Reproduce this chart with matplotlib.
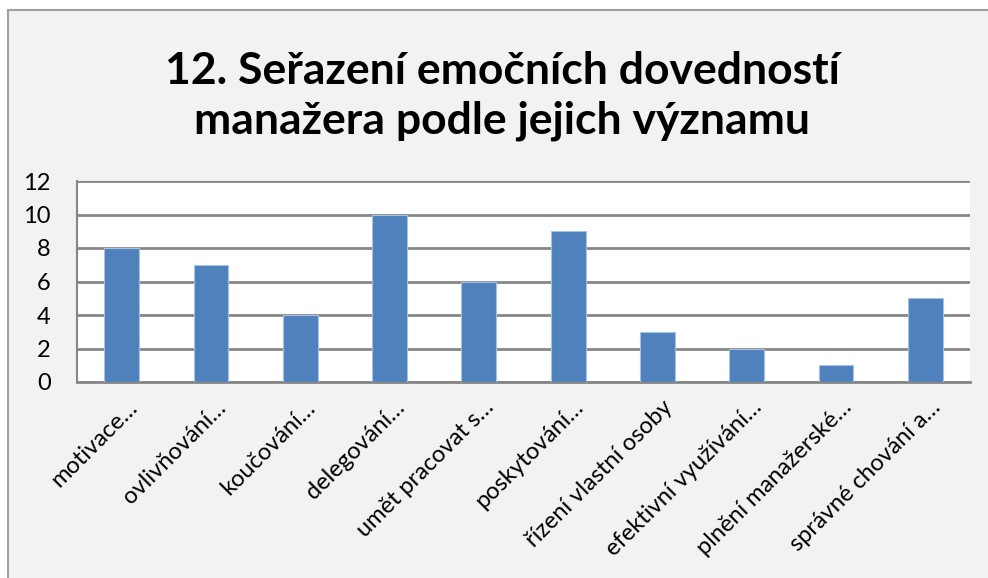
import matplotlib.pyplot as plt
import matplotlib.transforms as mtransforms
from matplotlib.patches import Rectangle
import numpy as np

#data
categories = ["motivace…", "ovlivňování…", "koučování…", "delegování…",
              "umět pracovat s…", "poskytování…", "řízení vlastní osoby",
              "efektivní využívání…", "plnění manažerské…", "správné chování a…"]
values = [8, 7, 4, 10, 6, 9, 3, 2, 1, 5]
yticks = [0, 2, 4, 6, 8, 10, 12]
title = "12. Seřazení emočních dovedností\nmanažera podle jejich významu"

plt.rcParams['font.family'] = ['Lato', 'DejaVu Sans']

fig = plt.figure(figsize=(9.88, 5.78), dpi=100)
fig.patch.set_facecolor("white")
# chart area box (cut off at right/bottom like the screenshot)
fig.patches.append(Rectangle((8/988, -0.1), 1.2, 1 - 10/578 + 0.1,
                             transform=fig.transFigure, facecolor="#f2f2f2",
                             edgecolor="#a0a0a0", linewidth=1.5, zorder=-5))

ax = fig.add_axes([77/988, 1 - 382/578, (970 - 77)/988, (382 - 181)/578])
ax.set_facecolor("white")

x = np.arange(len(categories))
ax.bar(x, values, width=0.39, color="#4f81bd", edgecolor="#a9c1e0",
       linewidth=0.8, zorder=3)

ax.set_xlim(-0.5, len(categories) - 0.5)
ax.set_ylim(0, 12)
ax.set_yticks(yticks)
ax.yaxis.grid(True, color="#868686", linewidth=2, zorder=1)
ax.set_axisbelow(True)
ax.tick_params(axis="y", length=0, labelsize=17, pad=19)
ax.tick_params(axis="x", length=0)

for s in ["top", "right"]:
    ax.spines[s].set_visible(False)
ax.spines["left"].set_color("#868686")
ax.spines["left"].set_linewidth(1.5)
ax.spines["bottom"].set_color("#868686")
ax.spines["bottom"].set_linewidth(2)

ax.set_xticks(x)
ax.set_xticklabels([])
offset = mtransforms.ScaledTranslation(12/100, -22/100, fig.dpi_scale_trans)
for i, c in enumerate(categories):
    ax.text(i, 0, c, rotation=45, ha="right", va="center",
            rotation_mode="anchor", fontsize=17,
            transform=ax.get_xaxis_transform() + offset)

fig.text(502/988, 1 - 96/578, title, ha="center", va="center",
         fontsize=32, fontweight="bold", linespacing=1.3)

fig.savefig("out.png", dpi=100, facecolor=fig.get_facecolor())
